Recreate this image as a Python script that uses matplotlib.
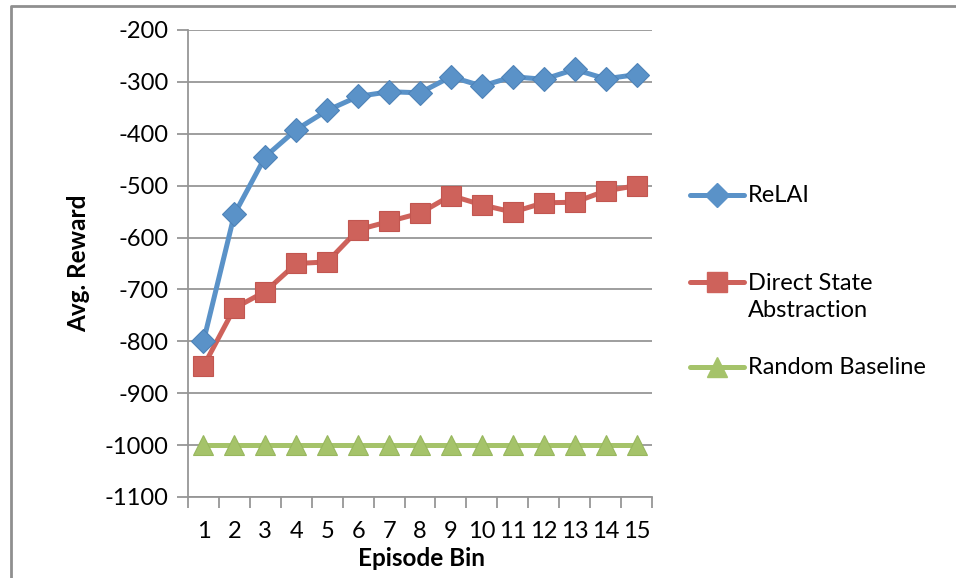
import numpy as np
import matplotlib
matplotlib.use('Agg')
import matplotlib.pyplot as plt
from matplotlib.lines import Line2D

FONT = 'Lato'
plt.rcParams['font.family'] = [FONT, 'DejaVu Sans']

episode_bin = list(range(1, 16))
relai = [-800, -555, -444, -392, -355, -328, -319, -321, -290, -308,
         -290, -295, -276, -294, -286]
direct_state = [-848, -736, -704, -650, -647, -585, -569, -553, -519, -537,
                -551, -533, -532, -510, -500]
random_baseline = [-1000] * 15
y_ticks = [-200, -300, -400, -500, -600, -700, -800, -900, -1000, -1100]

BLUE = '#5A92C8'
RED = '#CE625B'
GREEN = '#A5C36A'
GRID = '#969696'

fig = plt.figure(figsize=(9.56, 5.78), dpi=100)
W, H = 956.0, 578.0
ax = fig.add_axes([188 / W, 1 - 497 / H, (652 - 188) / W, (497 - 30) / H])

ax.plot(episode_bin, random_baseline, color=GREEN, lw=3.6, marker='^',
        ms=15, mec='#98B75E', mew=0.8, zorder=3, clip_on=False)
ax.plot(episode_bin, direct_state, color=RED, lw=3.6, marker='s',
        ms=14, mec='#C25650', mew=0.8, zorder=4, clip_on=False)
ax.plot(episode_bin, relai, color=BLUE, lw=3.6, marker='D',
        ms=12, mec='#4E83B8', mew=0.8, zorder=5, clip_on=False)

ax.set_xlim(0.5, 15.5)
ax.set_ylim(-1100, -200)
ax.set_yticks(y_ticks)
ax.set_yticklabels([str(v) for v in y_ticks])
ax.set_xticks(episode_bin)
ax.set_xticklabels([str(v) for v in episode_bin])
ax.set_xticks(np.arange(0.5, 16, 1), minor=True)
ax.tick_params(axis='x', which='major', length=0, pad=17, labelsize=17)
ax.tick_params(axis='x', which='minor', length=8, width=1.3, color=GRID,
               direction='out')
ax.tick_params(axis='y', length=8, width=1.3, color=GRID, direction='out',
               pad=6, labelsize=17)

ax.grid(axis='y', color=GRID, lw=1.3)
ax.set_axisbelow(True)
for s in ['top', 'right']:
    ax.spines[s].set_visible(False)
for s in ['left', 'bottom']:
    ax.spines[s].set_color(GRID)
    ax.spines[s].set_linewidth(1.3)

fig.text(79 / W, 1 - 263 / H, 'Avg. Reward', rotation=90, fontsize=17.5,
         fontweight='bold', ha='center', va='center')
fig.text(421 / W, 1 - 558 / H, 'Episode Bin', fontsize=17.5,
         fontweight='bold', ha='center', va='center')

# legend drawn by hand to follow the uneven spacing
legend = [(195, 195, BLUE, 'D', 12, 'ReLAI'),
          (282, 297, RED, 's', 14, 'Direct State\nAbstraction'),
          (367, 367, GREEN, '^', 15, 'Random Baseline')]
for yy, ty, col, mk, ms, label in legend:
    fy = 1 - yy / H
    fig.add_artist(Line2D([690 / W, 744 / W], [fy, fy], color=col, lw=3.6,
                          solid_capstyle='round'))
    fig.add_artist(Line2D([717 / W], [fy], color=col, marker=mk, ms=ms,
                          mec=col, ls='none'))
    fig.text(748 / W, 1 - ty / H, label, fontsize=17, ha='left',
             va='center', linespacing=1.4)

# outer chart frame (left and top only visible)
fig.add_artist(Line2D([11 / W, 11 / W, 1.0], [0.0, 1 - 6 / H, 1 - 6 / H],
                      color='#8F8F8F', lw=2))

fig.savefig('out.png', dpi=100)
